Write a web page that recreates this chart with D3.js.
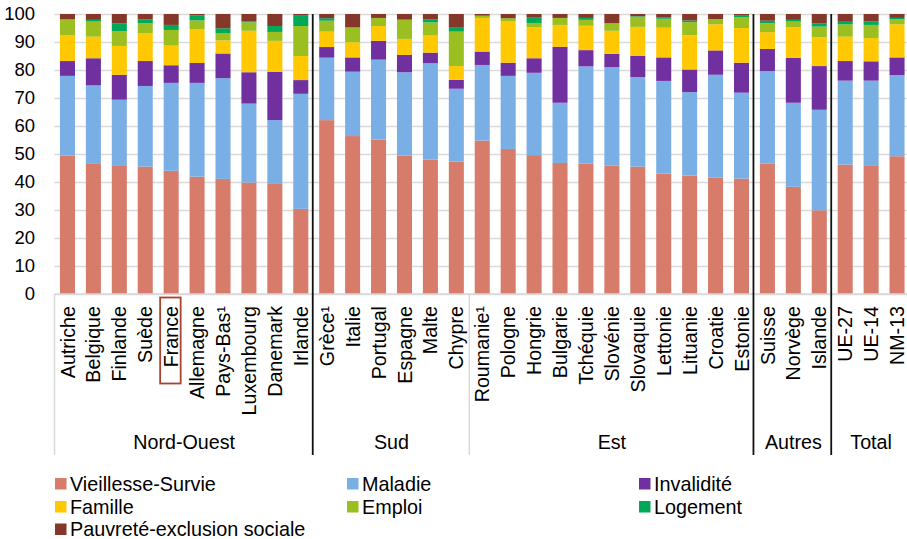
<!DOCTYPE html>
<html>
<head>
<meta charset="utf-8">
<script src="https://cdn.jsdelivr.net/npm/d3@7"></script>
<style>
  html, body { margin: 0; padding: 0; background: #fff; }
  svg { display: block; font-family: "Liberation Sans", Arial, sans-serif; }
</style>
</head>
<body>
<svg id="chart" width="907" height="539"></svg>
<script>
const categories = ["Autriche","Belgique","Finlande","Suède","France","Allemagne","Pays-Bas¹","Luxembourg","Danemark","Irlande",
  "Grèce¹","Italie","Portugal","Espagne","Malte","Chypre",
  "Roumanie¹","Pologne","Hongrie","Bulgarie","Tchéquie","Slovénie","Slovaquie","Lettonie","Lituanie","Croatie","Estonie",
  "Suisse","Norvège","Islande",
  "UE-27","UE-14","NM-13"];
const groupNames = ["Nord-Ouest","Sud","Est","Autres","Total"];
const groupSizes = [10, 6, 11, 3, 3];
const yTicks = [0,10,20,30,40,50,60,70,80,90,100];
const seriesNames = ["Vieillesse-Survie","Maladie","Invalidité","Famille","Emploi","Logement","Pauvreté-exclusion sociale"];

const vieillesse = [49.4,46.7,46.0,45.5,44.0,41.9,41.1,39.8,39.3,30.4, 62.1,56.4,55.1,49.4,48.0,47.3, 54.8,51.8,49.6,46.8,46.5,45.8,45.5,43.0,42.3,41.5,41.2, 46.5,38.3,29.9, 46.2,46.0,49.2];
const maladie    = [28.5,27.8,23.4,28.8,31.4,33.5,36.0,28.2,22.8,41.1, 22.3,23.0,28.6,29.8,34.4,26.0, 27.0,26.1,29.4,21.5,34.8,35.2,32.0,33.1,29.8,36.8,30.7, 33.1,30.0,35.9, 30.0,30.2,29.0];
const invalidite = [5.3,9.7,8.9,8.9,6.3,7.1,8.8,11.2,17.3,4.9, 3.8,5.1,6.7,6.2,3.8,3.2, 4.8,4.7,5.2,20.0,5.8,4.8,7.5,8.4,8.1,8.7,10.7, 7.9,16.0,15.6, 7.0,6.9,6.3];
const famille    = [9.3,7.7,10.3,10.0,7.0,12.0,4.7,14.8,11.0,8.6, 5.5,5.4,5.3,5.7,6.1,4.9, 12.0,14.9,11.0,7.8,8.7,8.2,10.4,10.6,12.2,9.3,12.4, 6.0,10.9,10.3, 8.7,8.3,11.8];
const emploi     = [5.5,5.4,5.3,3.5,5.6,3.2,2.6,3.0,3.2,10.7, 3.9,5.3,2.9,6.8,4.7,12.3, 0.8,1.0,1.6,2.5,2.1,2.7,3.6,3.2,4.7,1.9,3.9, 3.2,2.1,3.8, 4.4,4.7,1.8];
const logement   = [0.2,0.6,2.8,1.4,1.8,1.8,1.7,0.4,2.1,3.7, 0.9,0.0,0.0,0.3,1.0,1.4, 0.0,0.0,2.1,0.0,0.7,0.0,0.2,0.4,0.6,0.0,0.7, 0.9,0.6,1.2, 1.2,1.2,0.5];
const pauvrete   = [1.8,2.1,3.3,1.9,3.9,0.5,5.1,2.6,4.3,0.6, 1.5,4.8,1.4,1.8,2.0,4.9, 0.6,1.5,1.1,1.4,1.4,3.3,0.8,1.3,2.3,1.8,0.4, 2.4,2.1,3.3, 2.5,2.7,1.4];

const colors = ["#D77B6A","#7AAFE6","#7030A0","#FFC800","#9BBF20","#00A859","#85372A"];
const seriesValues = [vieillesse, maladie, invalidite, famille, emploi, logement, pauvrete];

// table for d3.stack
const table = categories.map((c, i) => {
  const row = { idx: i };
  seriesNames.forEach((s, k) => row[s] = seriesValues[k][i]);
  return row;
});

const svg = d3.select("#chart");
const plotLeft = 54.5, plotRight = 910, plotTop = 14, plotBottom = 294, axisBottomY = 455;
const fs = 19.7, fsTick = 18.5, fsLeg = 19.8;
const ff = '"Liberation Sans", Arial, sans-serif';

const x = d3.scaleBand().domain(d3.range(categories.length)).range([plotLeft, plotRight]).paddingInner(0.42).paddingOuter(0.21);
const y = d3.scaleLinear().domain([0, 100]).range([plotBottom, plotTop]);
const step = x.step();
const boundaryX = k => plotLeft + k * step;

// y axis + gridlines
const yAxis = svg.append("g").attr("transform", `translate(${plotLeft},0)`)
  .call(d3.axisLeft(y).tickValues(yTicks).tickSize(-(907 - plotLeft)).tickPadding(19.5).tickFormat(d3.format("d")));
yAxis.select(".domain").remove();
yAxis.selectAll(".tick line").attr("stroke", "#d9d9d9").attr("stroke-width", 1.5);
yAxis.selectAll(".tick text").attr("font-size", fsTick).attr("fill", "#000").attr("font-family", ff);

// stacked bars
const stack = d3.stack().keys(seriesNames);
const stacked = stack(table);
svg.append("g").selectAll("g").data(stacked).join("g")
  .attr("fill", (d, k) => colors[k])
  .selectAll("rect").data(d => d).join("rect")
  .attr("x", d => x(d.data.idx))
  .attr("width", x.bandwidth())
  .attr("y", d => y(d[1]))
  .attr("height", d => Math.max(0, y(d[0]) - y(d[1])));

// category axis
const xAxis = svg.append("g").attr("transform", `translate(0,${plotBottom})`)
  .call(d3.axisBottom(x).tickSize(0).tickFormat(i => categories[i]));
xAxis.select(".domain").attr("stroke", "#d9d9d9").attr("stroke-width", 1.5).attr("d", `M${plotLeft},0H907`);
xAxis.selectAll(".tick text")
  .attr("font-size", fs).attr("fill", "#000").attr("font-family", ff)
  .attr("transform", "rotate(-90)")
  .attr("text-anchor", "end")
  .attr("x", -12).attr("y", 0).attr("dy", "0.36em");

// group dividers
let cum = 0;
const bounds = [0];
groupSizes.forEach(n => { cum += n; bounds.push(cum); });
const lines = svg.append("g");
[0, 16].forEach(k => {
  lines.append("line").attr("x1", boundaryX(k)).attr("x2", boundaryX(k))
    .attr("y1", plotBottom).attr("y2", axisBottomY).attr("stroke", "#d9d9d9").attr("stroke-width", 1.5);
});
[10, 27, 30].forEach(k => {
  lines.append("line").attr("x1", boundaryX(k) - 1).attr("x2", boundaryX(k) - 1)
    .attr("y1", plotTop).attr("y2", axisBottomY).attr("stroke", "#111").attr("stroke-width", 1.8);
});

// group labels
groupNames.forEach((g, j) => {
  const cx = (boundaryX(bounds[j]) + boundaryX(bounds[j + 1])) / 2;
  svg.append("text").attr("x", cx).attr("y", 449).attr("text-anchor", "middle")
    .attr("font-size", fs).attr("fill", "#000").text(g);
});

// France highlight box
const fi = categories.indexOf("France");
const fcx = x(fi) + x.bandwidth() / 2;
svg.append("rect").attr("x", fcx - 11).attr("y", 297.5).attr("width", 20.5).attr("height", 86)
  .attr("fill", "none").attr("stroke", "#A8432F").attr("stroke-width", 1.8);

// legend
const legCols = [55, 347, 639];
const legRows = [484, 507, 529.5];
seriesNames.forEach((s, k) => {
  const col = k % 3, row = Math.floor(k / 3);
  const g = svg.append("g").attr("transform", `translate(${legCols[col]},${legRows[row]})`);
  g.append("rect").attr("x", 0).attr("y", -6).attr("width", 11.5).attr("height", 11.5).attr("fill", colors[k]);
  g.append("text").attr("x", 15).attr("y", 0).attr("dy", "0.35em").attr("font-size", fsLeg).attr("fill", "#000").text(s);
});
</script>
</body>
</html>
